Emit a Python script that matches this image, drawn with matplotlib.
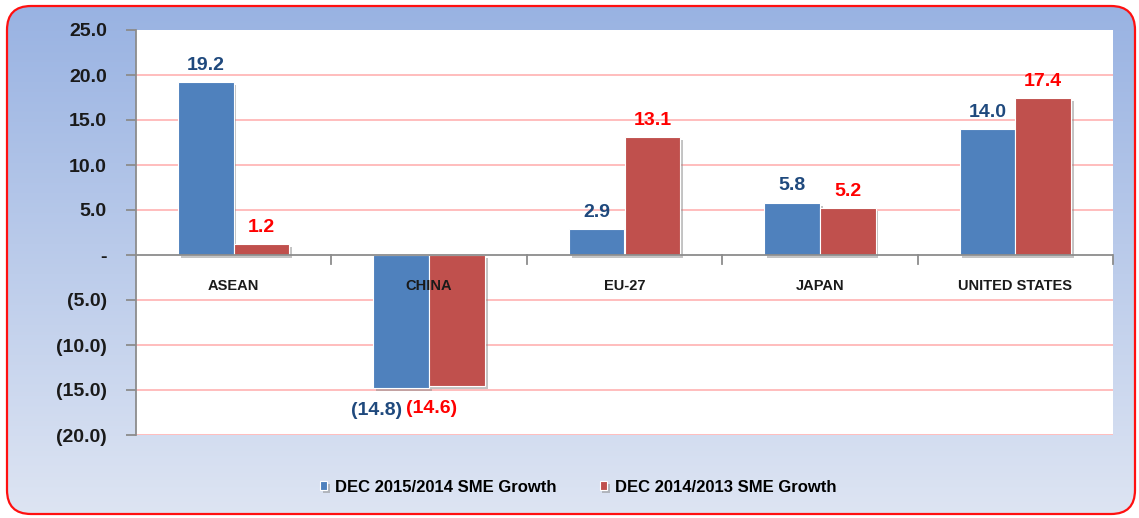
import numpy as np
from matplotlib import pyplot as plt
from matplotlib.patches import FancyBboxPatch
from matplotlib import patheffects as pe

categories = ["ASEAN", "CHINA", "EU-27", "JAPAN", "UNITED STATES"]
growth_2015 = [19.2, -14.8, 2.9, 5.8, 14.0]
growth_2014 = [1.2, -14.6, 13.1, 5.2, 17.4]
series_names = ["DEC 2015/2014 SME Growth", "DEC 2014/2013 SME Growth"]
y_ticks = [25, 20, 15, 10, 5, 0, -5, -10, -15, -20]

blue = "#4F81BD"
red = "#C0504D"
blue_txt = "#1F497D"
red_txt = "#FF0000"
font = "Liberation Sans"


def fmt(v):
    if v == 0:
        return "-"
    if v < 0:
        return "(%.1f)" % abs(v)
    return "%.1f" % v


fig = plt.figure(figsize=(11.39, 5.18), dpi=100)

# background with rounded red border and blue gradient
bg = fig.add_axes([0, 0, 1, 1], zorder=-10)
bg.set_xlim(0, 1139)
bg.set_ylim(518, 0)
bg.axis("off")
top = np.array([152, 178, 226]) / 255
bottom = np.array([222, 229, 243]) / 255
t = np.linspace(0, 1, 256)[:, None]
grad = (top[None, :] * (1 - t) + bottom[None, :] * t)[:, None, :]
img = bg.imshow(grad, extent=[0, 1139, 518, 0], aspect="auto")
box = FancyBboxPatch((7, 6), 1128, 508, boxstyle="round,pad=0,rounding_size=24",
                     facecolor="none", edgecolor="#FF1010", linewidth=1.6)
bg.add_patch(box)
img.set_clip_path(box)

ax = fig.add_axes([136 / 1139, 1 - 435 / 518, (1113 - 136) / 1139, 405 / 518])
ax.set_facecolor("white")

x = np.arange(len(categories))
w = 0.285
shadow = [pe.SimplePatchShadow(offset=(2, -2), shadow_rgbFace="#888888", alpha=0.5), pe.Normal()]
b1 = ax.bar(x - w / 2, growth_2015, w, color=blue, edgecolor="white", linewidth=0.8,
            zorder=3, label=series_names[0])
b2 = ax.bar(x + w / 2, growth_2014, w, color=red, edgecolor="white", linewidth=0.8,
            zorder=3, label=series_names[1])
for b in list(b1) + list(b2):
    b.set_path_effects(shadow)

ax.set_xlim(-0.5, len(categories) - 0.5)
ax.set_ylim(-20, 25)

for yv in y_ticks:
    if yv not in (0, 25):
        ax.axhline(yv, color="#FFB8B8", linewidth=1.3, zorder=1)
ax.axhline(0, color="#8C8C8C", linewidth=1.3, zorder=4)
for xb in np.arange(0.5, len(categories) - 0.4, 1.0):
    ax.plot([xb, xb], [0, -1.0], color="#8C8C8C", linewidth=1.3, zorder=4, clip_on=False)

for s in ["top", "right", "bottom"]:
    ax.spines[s].set_visible(False)
ax.spines["left"].set_color("#8C8C8C")
ax.spines["left"].set_linewidth(1.3)
ax.set_xticks([])
ax.set_yticks(y_ticks)
ax.set_yticklabels([fmt(v) for v in y_ticks], fontfamily=font, fontweight="bold",
                   fontsize=14, color="#1A1A1A")
ax.tick_params(axis="y", length=7, color="#8C8C8C", width=1.3, pad=14)

for i, c in enumerate(categories):
    ax.annotate(c, (i, 0), xytext=(0, -22), textcoords="offset points", ha="center",
                va="center", fontsize=10.5, fontweight="bold", fontfamily=font,
                color="#1A1A1A", zorder=6)

for vals, xs, col in [(growth_2015, x - w / 2, blue_txt), (growth_2014, x + w / 2, red_txt)]:
    for xv, v in zip(xs, vals):
        if v >= 0:
            ax.annotate(fmt(v), (xv, v), xytext=(0, 6), textcoords="offset points",
                        ha="center", va="bottom", fontsize=14, fontweight="bold",
                        fontfamily=font, color=col, zorder=6)
        else:
            ax.annotate(fmt(v), (xv, v), xytext=(-18, -16), textcoords="offset points",
                        ha="center", va="center", fontsize=14, fontweight="bold",
                        fontfamily=font, color=col, zorder=6)

fig.legend(loc="center", bbox_to_anchor=(578 / 1139, 1 - 487 / 518), ncol=2, frameon=False,
           prop={"family": font, "weight": "bold", "size": 12}, handlelength=0.45,
           handleheight=0.45, handletextpad=0.45, columnspacing=2.6)

fig.savefig("out.png", dpi=100)
